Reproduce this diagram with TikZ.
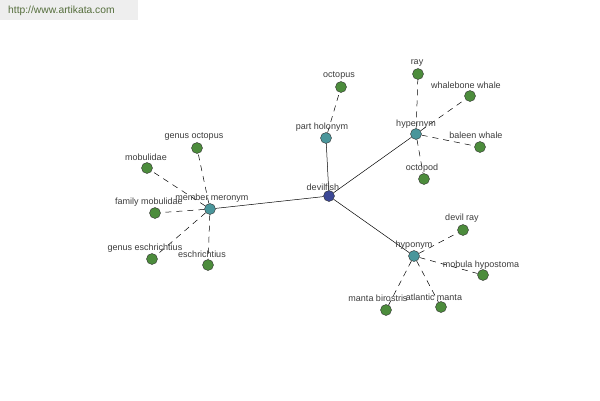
\documentclass[tikz,border=0pt]{standalone}
\usepackage{fontspec}
\setmainfont{Liberation Sans}
\definecolor{leaf}{RGB}{76,140,60}
\definecolor{rel}{RGB}{74,150,155}
\definecolor{root}{RGB}{60,72,150}
\definecolor{lbl}{RGB}{60,60,60}
\definecolor{wm}{RGB}{238,238,238}
\definecolor{wmtext}{RGB}{85,110,60}
\tikzset{
  dot/.style={circle,draw=black!80,line width=0.4pt,minimum size=11pt,inner sep=0pt},
  leafdot/.style={dot,fill=leaf},
  reldot/.style={dot,fill=rel},
  rootdot/.style={dot,fill=root},
  lab/.style={text=lbl,font=\fontsize{9}{10}\selectfont,inner sep=0pt},
  solidedge/.style={draw=black,line width=0.5pt},
  dashedge/.style={draw=black,line width=0.5pt,dash pattern=on 6pt off 5pt}
}
\begin{document}
\begin{tikzpicture}[x=1pt,y=-1pt]
\useasboundingbox (0,0) rectangle (600,400);
\fill[white] (0,0) rectangle (600,400);
\fill[wm] (0,0) rectangle (138,20);
\node[anchor=west,text=wmtext,font=\fontsize{10.3}{11}\selectfont,inner sep=0pt] (wmark) at (8,11) {http://www.artikata.com};
% nodes
\node[rootdot] (devilfish) at (329,196) {};
\node[reldot] (partholonym) at (326,138) {};
\node[reldot] (hypernym) at (416,134) {};
\node[reldot] (hyponym) at (414,256) {};
\node[reldot] (membermeronym) at (210,209) {};
\node[leafdot] (octopus) at (341,87) {};
\node[leafdot] (ray) at (418,74) {};
\node[leafdot] (whalebone) at (470,96) {};
\node[leafdot] (baleen) at (480,147) {};
\node[leafdot] (octopod) at (424,179) {};
\node[leafdot] (devilray) at (463,230) {};
\node[leafdot] (mobulahyp) at (483,275) {};
\node[leafdot] (atlantic) at (441,307) {};
\node[leafdot] (birostris) at (386,310) {};
\node[leafdot] (genusoct) at (197,148) {};
\node[leafdot] (mobulidae) at (147,168) {};
\node[leafdot] (familymob) at (155,213) {};
\node[leafdot] (genusesch) at (152,259) {};
\node[leafdot] (eschrichtius) at (208,265) {};
% edges
\path[solidedge] (devilfish) -- (partholonym);
\path[solidedge] (devilfish) -- (hypernym);
\path[solidedge] (devilfish) -- (hyponym);
\path[solidedge] (devilfish) -- (membermeronym);
\path[dashedge] (partholonym) -- (octopus);
\path[dashedge] (hypernym) -- (ray);
\path[dashedge] (hypernym) -- (whalebone);
\path[dashedge] (hypernym) -- (baleen);
\path[dashedge] (hypernym) -- (octopod);
\path[dashedge] (hyponym) -- (devilray);
\path[dashedge] (hyponym) -- (mobulahyp);
\path[dashedge] (hyponym) -- (atlantic);
\path[dashedge] (hyponym) -- (birostris);
\path[dashedge] (membermeronym) -- (genusoct);
\path[dashedge] (membermeronym) -- (mobulidae);
\path[dashedge] (membermeronym) -- (familymob);
\path[dashedge] (membermeronym) -- (genusesch);
\path[dashedge] (membermeronym) -- (eschrichtius);
% labels
\node[lab] (l1) at (323,187) {devilfish};
\node[lab] (l2) at (322,127) {part holonym};
\node[lab] (l3) at (339,76) {octopus};
\node[lab] (l4) at (416,124) {hypernym};
\node[lab] (l5) at (417,63) {ray};
\node[lab] (l6) at (466,85) {whalebone whale};
\node[lab] (l7) at (476,135) {baleen whale};
\node[lab] (l8) at (422,168) {octopod};
\node[lab] (l9) at (414,245) {hyponym};
\node[lab] (l10) at (462,218) {devil ray};
\node[lab] (l11) at (481,265) {mobula hypostoma};
\node[lab] (l12) at (434,297) {atlantic manta};
\node[lab] (l13) at (378,298) {manta birostris};
\node[lab] (l14) at (212,198) {member meronym};
\node[lab] (l15) at (194,137) {genus octopus};
\node[lab] (l16) at (146,157) {mobulidae};
\node[lab] (l17) at (149,202) {family mobulidae};
\node[lab] (l18) at (145,248) {genus eschrichtius};
\node[lab] (l19) at (202,254) {eschrichtius};
\end{tikzpicture}
\end{document}
